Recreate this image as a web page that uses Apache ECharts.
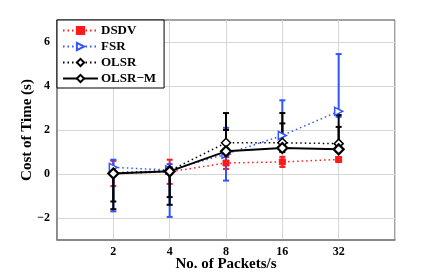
<!DOCTYPE html>
<html><head><meta charset="utf-8">
<script src="https://cdn.jsdelivr.net/npm/echarts@6/dist/echarts.min.js"></script>
<style>html,body{margin:0;padding:0;background:#fff}#c{width:436px;height:273px}</style>
</head><body><div id="c"></div>
<script>
const categories = [2, 4, 8, 16, 32];
const yTicks = [-2, 0, 2, 4, 6];

const dsdvMean = [0.02, 0.10, 0.50, 0.55, 0.66];
const dsdvLow  = [-0.55, -0.45, 0.23, 0.32, 0.56];
const dsdvHigh = [0.60, 0.65, 0.77, 0.78, 0.76];

const fsrMean = [0.30, 0.18, 0.90, 1.75, 2.85];
const fsrLow  = [-1.70, -1.95, -0.30, 1.50, 2.60];
const fsrHigh = [0.65, 0.45, 2.10, 3.35, 5.45];

const olsrMean = [0.05, 0.15, 1.42, 1.42, 1.38];
const olsrLow  = [-1.25, -1.05, 0.90, 1.10, 1.20];
const olsrHigh = [0.10, 0.30, 2.77, 2.77, 2.68];

const olsrmMean = [0.02, 0.12, 1.03, 1.18, 1.12];
const olsrmLow  = [-1.60, -1.40, 0.90, 1.00, 1.00];
const olsrmHigh = [0.05, 0.20, 2.00, 2.30, 2.14];

const RED = '#ff1a1a', BLUE = '#2f55ff', BLACK = '#000000';
const FONT = 'Liberation Serif';
const GRIDC = '#d6d6d6';

function errSeries(name, color, low, high) {
  return {
    type: 'custom', name: name + '_err',
    data: categories.map((c, i) => [c, low[i], high[i]]),
    encode: { x: 0, y: [1, 2] },
    renderItem: function (params, api) {
      const x = api.value(0);
      const lo = api.coord([x, api.value(1)]);
      const hi = api.coord([x, api.value(2)]);
      const w = 3;
      const st = { stroke: color, lineWidth: 2 };
      return { type: 'group', children: [
        { type: 'line', shape: { x1: lo[0], y1: lo[1], x2: hi[0], y2: hi[1] }, style: st },
        { type: 'line', shape: { x1: lo[0] - w, y1: lo[1], x2: lo[0] + w, y2: lo[1] }, style: st },
        { type: 'line', shape: { x1: hi[0] - w, y1: hi[1], x2: hi[0] + w, y2: hi[1] }, style: st }
      ]};
    },
    silent: true
  };
}
function lineSeries(name, color, mean, symbol, size, lineType, lineWidth, fill, bw) {
  return {
    type: 'line', name: name,
    data: categories.map((c, i) => [c, mean[i]]),
    symbol: symbol, symbolSize: size, showAllSymbol: true,
    lineStyle: { color: color, width: lineWidth, type: lineType },
    itemStyle: { color: fill, borderColor: color, borderWidth: bw },
    emphasis: { disabled: true }, animation: false
  };
}

const chart = echarts.init(document.getElementById('c'), null, { renderer: 'canvas' });
chart.setOption({
  animation: false,
  backgroundColor: '#fff',
  grid: { left: 57, right: 41, top: 20, bottom: 33, show: true, borderColor: '#444', borderWidth: 1,
          backgroundColor: 'transparent', outerBoundsMode: 'none', containLabel: false },
  xAxis: {
    type: 'log', logBase: 2, min: 1, max: 64, interval: 1,
    name: 'No. of Packets/s', nameLocation: 'middle', nameGap: 17, nameMoveOverlap: false,
    nameTextStyle: { fontFamily: FONT, fontWeight: 'bold', fontSize: 15, color: '#000' },
    axisLine: { onZero: false, lineStyle: { color: '#808080', width: 1.5 } },
    axisTick: { show: false },
    axisLabel: { fontFamily: FONT, fontWeight: 'bold', fontSize: 12, color: '#000', margin: 6,
      formatter: v => (categories.indexOf(Math.round(v)) >= 0 ? String(Math.round(v)) : '') },
    splitLine: { show: true, lineStyle: { color: GRIDC, width: 1, type: 'solid' } }
  },
  yAxis: {
    type: 'value', min: -3, max: 7, interval: 1,
    name: 'Cost of Time (s)', nameLocation: 'middle', nameGap: 22, nameMoveOverlap: false,
    nameTextStyle: { fontFamily: FONT, fontWeight: 'bold', fontSize: 15, color: '#000' },
    axisLine: { onZero: false, lineStyle: { color: '#808080', width: 1.5 } },
    axisTick: { show: false },
    axisLabel: { fontFamily: FONT, fontWeight: 'bold', fontSize: 12, color: '#000', margin: 7,
      formatter: v => (yTicks.indexOf(v) >= 0 ? (v < 0 ? '\u2212' + Math.abs(v) : String(v)) : '') },
    splitLine: { show: true, lineStyle: { color: ['rgba(0,0,0,0)', GRIDC], width: 1, type: 'solid' } }
  },
  legend: {
    left: 57, top: 20, orient: 'vertical', z: 10,
    data: ['DSDV', 'FSR', 'OLSR', 'OLSR\u2212M'],
    backgroundColor: '#fff', borderColor: '#000', borderWidth: 1,
    padding: [4, 8, 3, 5], itemGap: 3, itemWidth: 35, itemHeight: 9,
    textStyle: { fontFamily: FONT, fontWeight: 'bold', fontSize: 13, color: '#000', padding: [0, 0, 0, -2] }
  },
  series: [
    errSeries('DSDV', RED, dsdvLow, dsdvHigh),
    lineSeries('DSDV', RED, dsdvMean, 'rect', 6, [1.5, 3], 1.5, RED, 1),
    errSeries('FSR', BLUE, fsrLow, fsrHigh),
    lineSeries('FSR', BLUE, fsrMean, 'path://M0,0 L10,5 L0,10 Z', 8, [1.5, 3], 1.5, '#fff', 1.5),
    errSeries('OLSR', BLACK, olsrLow, olsrHigh),
    lineSeries('OLSR', BLACK, olsrMean, 'diamond', 9, [1.5, 3], 1.5, '#fff', 1.5),
    errSeries('OLSR\u2212M', BLACK, olsrmLow, olsrmHigh),
    lineSeries('OLSR\u2212M', BLACK, olsrmMean, 'diamond', 10, 'solid', 2, '#fff', 2.2)
  ]
});
</script></body></html>
